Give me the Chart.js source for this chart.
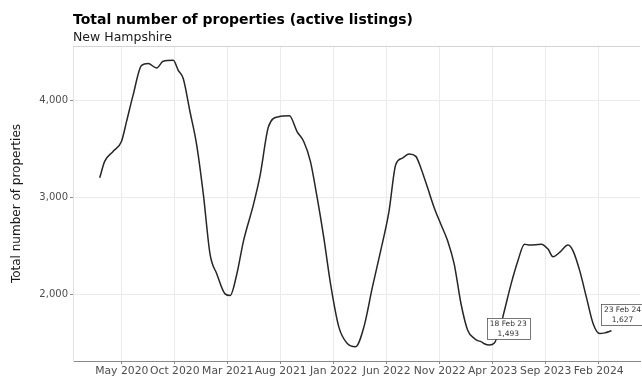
<!DOCTYPE html>
<html>
<head>
<meta charset="utf-8">
<script src="https://cdn.jsdelivr.net/npm/chart.js@4.4.0/dist/chart.umd.min.js"></script>
<style>
    html, body { margin: 0; padding: 0; background: #ffffff; }
    canvas { display: block; }
</style>
</head>
<body>
<canvas id="myChart" width="642" height="379"></canvas>
<script>
"use strict";

// months counted from Jan 2020 (May 2020 = 4)
const monthPos = [
    1.92, 2.39, 3.18, 3.97, 4.45, 5.07, 5.87, 6.49, 7.29, 7.91,
    8.86, 9.33, 9.80, 10.44, 11.07, 11.70, 12.33, 12.97, 13.75, 14.23,
    14.86, 15.49, 16.43, 17.07, 17.85, 18.80, 19.82, 20.54, 21.17, 21.80,
    22.44, 23.06, 23.70, 24.48, 25.28, 26.06, 26.85, 27.65, 28.43, 29.22,
    29.85, 30.49, 31.11, 31.75, 32.22, 32.86, 33.48, 34.11, 34.75, 35.37,
    36.01, 36.64, 37.27, 37.59, 37.90, 38.21, 38.69, 39.16, 39.63, 40.11,
    40.74, 41.38, 42.00, 42.48, 43.58, 44.22, 44.69, 45.31, 46.11, 46.58,
    47.21, 47.84, 48.48, 49.10, 49.58, 50.21,
];

const listings = [
    3202, 3372, 3474, 3576, 3781, 4054, 4361, 4379, 4334, 4402,
    4412, 4310, 4225, 3883, 3542, 3031, 2417, 2212, 2007, 1990,
    2212, 2553, 2929, 3236, 3730, 3832, 3842, 3679, 3576, 3372,
    2997, 2588, 2110, 1667, 1495, 1462, 1667, 2076, 2450, 2860,
    3338, 3406, 3447, 3423, 3304, 3099, 2895, 2724, 2553, 2314,
    1905, 1632, 1547, 1525, 1515, 1493, 1480, 1500, 1632, 1836,
    2110, 2348, 2519, 2509, 2519, 2468, 2389, 2434, 2509, 2450,
    2246, 1973, 1700, 1598, 1605, 1627,
];

const tickMonths = [4, 9, 14, 19, 24, 29, 34, 39, 44, 49];
const tickLabels = [
    "May 2020", "Oct 2020", "Mar 2021", "Aug 2021", "Jan 2022",
    "Jun 2022", "Nov 2022", "Apr 2023", "Sep 2023", "Feb 2024",
];
const yTicks = [2000, 3000, 4000];

// labelled points: index into the series and the date shown
const noteIndex = [55, 75];
const noteDates = ["18 Feb 23", "23 Feb 24"];

const fmt = (v) => v.toLocaleString("en-US");

const headerPlugin = {
    id: "header",
    afterDraw: (chart) => {
        const ctx = chart.ctx;
        const left = chart.chartArea.left;
        ctx.save();
        ctx.fillStyle = "#000000";
        ctx.textAlign = "left";
        ctx.textBaseline = "alphabetic";
        ctx.font = "bold 14px 'DejaVu Sans'";
        ctx.fillText("Total number of properties (active listings)", left, 24);
        ctx.font = "12.5px 'DejaVu Sans'";
        ctx.fillStyle = "#1a1a1a";
        ctx.fillText("New Hampshire", left, 41);
        // top frame line
        ctx.strokeStyle = "#d4d4d4";
        ctx.lineWidth = 1;
        ctx.beginPath();
        ctx.moveTo(chart.chartArea.left, chart.chartArea.top + 0.5);
        ctx.lineTo(chart.chartArea.right, chart.chartArea.top + 0.5);
        ctx.stroke();
        ctx.restore();
    },
};

const notesPlugin = {
    id: "notes",
    afterDatasetsDraw: (chart) => {
        const ctx = chart.ctx;
        const xs = chart.scales.x;
        const ys = chart.scales.y;
        const offsets = [[24, -15], [11, -16]];
        ctx.save();
        ctx.font = "7.5px 'DejaVu Sans'";
        ctx.textAlign = "center";
        ctx.textBaseline = "middle";
        for (let i = 0; i < noteIndex.length; i++) {
            const k = noteIndex[i];
            const px = xs.getPixelForValue(monthPos[k]);
            const py = ys.getPixelForValue(listings[k]);
            const cx = px + offsets[i][0];
            const cy = py + offsets[i][1];
            const w = 43;
            const h = 21;
            ctx.fillStyle = "#ffffff";
            ctx.fillRect(cx - w / 2, cy - h / 2, w, h);
            ctx.strokeStyle = "#555555";
            ctx.lineWidth = 0.8;
            ctx.strokeRect(Math.round(cx - w / 2) + 0.5, Math.round(cy - h / 2) + 0.5, w, h);
            ctx.fillStyle = "#333333";
            ctx.fillText(noteDates[i], cx, cy - 4.5);
            ctx.fillText(fmt(listings[k]), cx, cy + 5);
        }
        ctx.restore();
    },
};

const ctx = document.getElementById("myChart").getContext("2d");

new Chart(ctx, {
    type: "line",
    data: {
        datasets: [
            {
                label: "Active listings",
                data: monthPos.map((m, i) => ({ x: m, y: listings[i] })),
                borderColor: "#262626",
                borderWidth: 1.5,
                pointRadius: 0,
                cubicInterpolationMode: "monotone",
                fill: false,
            },
        ],
    },
    options: {
        responsive: false,
        devicePixelRatio: 1,
        animation: false,
        layout: {
            padding: { left: 0, right: 2, top: 46, bottom: 0 },
        },
        plugins: {
            legend: { display: false },
            tooltip: { enabled: false },
        },
        scales: {
            x: {
                type: "linear",
                min: -0.6,
                max: 52.9,
                afterBuildTicks: (axis) => {
                    axis.ticks = tickMonths.map((v) => ({ value: v }));
                },
                ticks: {
                    autoSkip: false,
                    maxRotation: 0,
                    padding: 1,
                    color: "#4d4d4d",
                    font: { family: "DejaVu Sans", size: 10.8 },
                    callback: (value, index) => tickLabels[index],
                },
                grid: {
                    color: "#ebebeb",
                    tickColor: "#8a8a8a",
                    tickLength: 3,
                },
                border: { color: "#8a8a8a", width: 1 },
            },
            y: {
                type: "linear",
                min: 1315,
                max: 4560,
                afterBuildTicks: (axis) => {
                    axis.ticks = yTicks.map((v) => ({ value: v }));
                },
                afterFit: (axis) => {
                    axis.width = 73;
                },
                title: {
                    display: true,
                    text: "Total number of properties",
                    color: "#1a1a1a",
                    font: { family: "DejaVu Sans", size: 12 },
                    padding: { top: 10, bottom: 0 },
                },
                ticks: {
                    padding: 2,
                    color: "#4d4d4d",
                    font: { family: "DejaVu Sans", size: 10 },
                    callback: (value) => fmt(value),
                },
                grid: {
                    color: "#ebebeb",
                    tickColor: "#8a8a8a",
                    tickLength: 3,
                },
                border: { color: "#e2e2e2", width: 1 },
            },
        },
    },
    plugins: [headerPlugin, notesPlugin],
});
</script>
</body>
</html>
